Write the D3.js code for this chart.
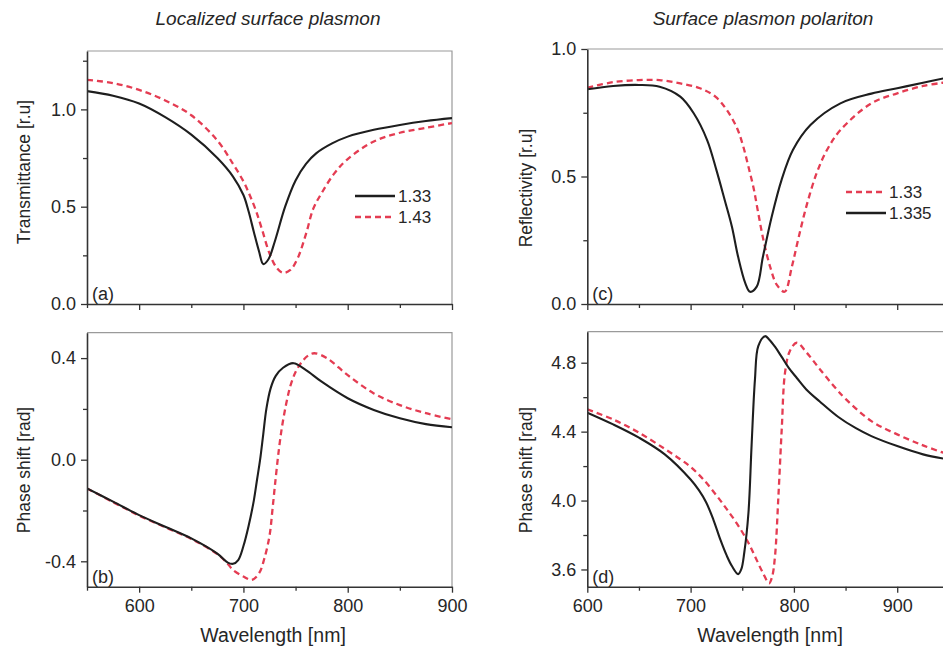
<!DOCTYPE html>
<html>
<head>
<meta charset="utf-8">
<script src="https://cdn.jsdelivr.net/npm/d3@7"></script>
<style>
  html, body { margin: 0; padding: 0; background: #fff; }
  svg { display: block; font-family: "Liberation Sans", Arial, sans-serif; }
</style>
</head>
<body>
<svg id="chart" width="943" height="651"></svg>
<script>
// (a) localized surface plasmon: transmittance vs wavelength
const wlTrans133 = [550, 575, 600, 625, 650, 675, 690, 700, 705, 710, 715, 719, 724, 730, 740, 750, 760, 770, 785, 800, 825, 850, 875, 900];
const trans133   = [1.094, 1.07, 1.03, 0.96, 0.87, 0.75, 0.655, 0.56, 0.475, 0.37, 0.27, 0.205, 0.23, 0.32, 0.50, 0.635, 0.72, 0.775, 0.825, 0.86, 0.895, 0.92, 0.94, 0.955];
const wlTrans143 = [550, 575, 600, 625, 650, 675, 690, 700, 706, 712, 718, 725, 732, 738, 745, 752, 760, 767, 775, 787, 800, 825, 850, 875, 900];
const trans143   = [1.152, 1.135, 1.10, 1.046, 0.97, 0.84, 0.72, 0.63, 0.56, 0.48, 0.38, 0.26, 0.185, 0.16, 0.175, 0.235, 0.36, 0.49, 0.57, 0.67, 0.745, 0.835, 0.88, 0.905, 0.93];

// (b) localized surface plasmon: phase shift vs wavelength
const wlPhaseL133 = [550, 575, 600, 625, 650, 675, 685, 690, 695, 700, 705, 710, 713, 716, 719, 722, 726, 731, 738, 748, 760, 775, 800, 825, 850, 875, 900];
const phaseL133   = [-0.113, -0.165, -0.218, -0.264, -0.31, -0.37, -0.405, -0.41, -0.395, -0.34, -0.26, -0.16, -0.08, 0.0, 0.1, 0.2, 0.28, 0.33, 0.362, 0.38, 0.353, 0.307, 0.242, 0.196, 0.163, 0.14, 0.128];
const wlPhaseL143 = [550, 575, 600, 625, 650, 675, 685, 690, 700, 708, 715, 720, 725, 728, 731, 734, 737, 741, 745, 750, 756, 762, 768, 780, 800, 825, 850, 875, 900];
const phaseL143   = [-0.113, -0.167, -0.22, -0.266, -0.312, -0.372, -0.41, -0.434, -0.46, -0.473, -0.447, -0.39, -0.30, -0.19, -0.07, 0.04, 0.13, 0.22, 0.29, 0.345, 0.385, 0.41, 0.419, 0.40, 0.333, 0.261, 0.215, 0.183, 0.159];

// (c) surface plasmon polariton: reflectivity vs wavelength
const wlRefl133 = [600, 625, 650, 670, 690, 709, 724, 735, 745, 751, 756, 761, 765.5, 770.5, 777, 783.5, 791, 798, 804, 812, 822, 832, 845, 875, 900, 925, 945];
const refl133   = [0.848, 0.87, 0.878, 0.878, 0.865, 0.846, 0.813, 0.761, 0.689, 0.617, 0.538, 0.454, 0.356, 0.251, 0.146, 0.075, 0.048, 0.146, 0.251, 0.382, 0.513, 0.604, 0.682, 0.787, 0.826, 0.855, 0.868];
const wlRefl1335 = [600, 625, 650, 670, 690, 703, 716, 725, 733, 740, 746, 753, 757.5, 764, 770, 778.5, 788, 799, 816, 845, 875, 900, 925, 945];
const refl1335   = [0.842, 0.855, 0.859, 0.852, 0.813, 0.748, 0.643, 0.525, 0.408, 0.303, 0.185, 0.081, 0.048, 0.068, 0.185, 0.342, 0.486, 0.604, 0.702, 0.787, 0.825, 0.846, 0.868, 0.885];

// (d) surface plasmon polariton: phase shift vs wavelength
const wlPhaseS133 = [600, 625, 650, 675, 690, 700, 712, 725, 735, 745, 755, 762, 770, 776, 779, 781.7, 785, 788.2, 791.4, 796, 802.7, 812.4, 825.3, 841.4, 850, 875, 900, 925, 945];
const phaseS133   = [4.529, 4.471, 4.394, 4.30, 4.24, 4.195, 4.125, 4.03, 3.95, 3.865, 3.765, 3.68, 3.58, 3.52, 3.56, 3.677, 4.026, 4.413, 4.742, 4.867, 4.916, 4.858, 4.761, 4.645, 4.59, 4.461, 4.384, 4.32, 4.277];
const wlPhaseS1335 = [600, 625, 650, 675, 700, 708, 715, 722, 729, 735, 740, 746, 749, 752, 756, 759, 762.3, 765.5, 772, 776, 782, 788, 795, 803, 812, 825, 843, 860, 875, 900, 925, 945];
const phaseS1335   = [4.51, 4.442, 4.365, 4.268, 4.122, 4.06, 3.99, 3.89, 3.77, 3.68, 3.62, 3.573, 3.6, 3.7, 3.929, 4.316, 4.703, 4.896, 4.954, 4.935, 4.89, 4.835, 4.77, 4.71, 4.645, 4.575, 4.485, 4.42, 4.374, 4.316, 4.268, 4.243];

// Tick values
const xTicksLeft = [600, 700, 800, 900];
const xMinorLeft = [550, 650, 750, 850];
const xTicksRight = [600, 700, 800, 900];
const xMinorRight = [650, 750, 850];
const yTicksA = [0.0, 0.5, 1.0];   const yMinorA = [0.25, 0.75, 1.25];
const yTicksB = [-0.4, 0.0, 0.4];  const yMinorB = [-0.2, 0.2];
const yTicksC = [0.0, 0.5, 1.0];   const yMinorC = [0.25, 0.75];
const yTicksD = [3.6, 4.0, 4.4, 4.8]; const yMinorD = [3.8, 4.2, 4.6];

const BLACK = "#1e1e1e";
const RED = "#e43c52";
const TEXT = "#262626";

const svg = d3.select("#chart");
const zip = (xs, ys) => xs.map((x, i) => [x, ys[i]]);
const fmt1 = v => d3.format(".1f")(v).replace("\u2212", "-");

function panel(cfg) {
  const x = d3.scaleLinear().domain(cfg.xDomain).range(cfg.xRange);
  const y = d3.scaleLinear().domain(cfg.yDomain).range(cfg.yRange);
  const [x0, x1] = cfg.xRange, [y0, y1] = cfg.yRange;
  const g = svg.append("g");

  const clipId = "clip-" + cfg.id;
  svg.append("clipPath").attr("id", clipId)
    .append("rect").attr("x", x0).attr("y", y1).attr("width", x1 - x0).attr("height", y0 - y1);

  // light frame on top and right
  g.append("path")
    .attr("d", `M${x0},${y1}H${x1}V${y0}`)
    .attr("fill", "none").attr("stroke", "#9a9a9a").attr("stroke-width", 1.2);

  const line = d3.line().x(d => x(d[0])).y(d => y(d[1])).curve(d3.curveCatmullRom.alpha(0.5));
  const lines = g.append("g").attr("clip-path", `url(#${clipId})`);
  cfg.series.forEach(s => {
    lines.append("path")
      .attr("d", line(zip(s.x, s.y)))
      .attr("fill", "none")
      .attr("stroke", s.color)
      .attr("stroke-width", s.dash ? 2.3 : 2.1)
      .attr("stroke-dasharray", s.dash ? "6,4" : null)
      .attr("stroke-linejoin", "round");
  });

  // minor ticks
  g.append("g").attr("transform", `translate(0,${y0})`)
    .call(d3.axisBottom(x).tickValues(cfg.xMinor).tickSize(4).tickSizeOuter(0).tickFormat(""))
    .call(a => a.select(".domain").remove());
  g.append("g").attr("transform", `translate(${x0},0)`)
    .call(d3.axisLeft(y).tickValues(cfg.yMinor).tickSize(4).tickSizeOuter(0).tickFormat(""))
    .call(a => a.select(".domain").remove());

  // major axes
  const xa = g.append("g").attr("transform", `translate(0,${y0})`)
    .call(d3.axisBottom(x).tickValues(cfg.xTicks).tickSize(6).tickSizeOuter(0).tickPadding(7)
      .tickFormat(cfg.xLabels ? d3.format("d") : ""));
  const ya = g.append("g").attr("transform", `translate(${x0},0)`)
    .call(d3.axisLeft(y).tickValues(cfg.yTicks).tickSize(6).tickSizeOuter(0).tickPadding(5)
      .tickFormat(fmt1));
  [xa, ya].forEach(a => {
    a.select(".domain").attr("stroke", "#333").attr("stroke-width", 1.6);
    a.selectAll(".tick text").attr("font-size", 18).attr("fill", TEXT)
      .attr("font-family", "Liberation Sans, Arial, sans-serif");
  });
  g.selectAll(".tick line").attr("stroke", "#333").attr("stroke-width", 1.3);

  // panel letter
  g.append("text").attr("x", x0 + 5).attr("y", y0 - 4)
    .attr("font-size", 18).attr("fill", TEXT).text(cfg.letter);

  // y axis title
  g.append("text")
    .attr("transform", `translate(${cfg.yTitleX},${cfg.yTitleY}) rotate(-90)`)
    .attr("text-anchor", "middle").attr("dominant-baseline", "central")
    .attr("font-size", 17.5).attr("fill", TEXT).text(cfg.yTitle);

  if (cfg.xTitle) {
    g.append("text").attr("x", cfg.xTitleX).attr("y", 635)
      .attr("text-anchor", "middle").attr("dominant-baseline", "central")
      .attr("font-size", 19.5).attr("fill", TEXT).text(cfg.xTitle);
  }
  return { x, y, g };
}

panel({
  id: "a", letter: "(a)", xDomain: [550, 900], xRange: [87, 452], yDomain: [0, 1.3], yRange: [304, 51],
  xTicks: xTicksLeft, xMinor: xMinorLeft, yTicks: yTicksA, yMinor: yMinorA, xLabels: false,
  yTitle: "Transmittance [r.u]", yTitleX: 24, yTitleY: 172,
  series: [
    { x: wlTrans143, y: trans143, color: RED, dash: true },
    { x: wlTrans133, y: trans133, color: BLACK, dash: false }
  ]
});
panel({
  id: "b", letter: "(b)", xDomain: [550, 900], xRange: [87, 452], yDomain: [-0.5, 0.5], yRange: [586.7, 332.7],
  xTicks: xTicksLeft, xMinor: xMinorLeft, yTicks: yTicksB, yMinor: yMinorB, xLabels: true,
  yTitle: "Phase shift [rad]", yTitleX: 24, yTitleY: 470, xTitle: "Wavelength [nm]", xTitleX: 273,
  series: [
    { x: wlPhaseL143, y: phaseL143, color: RED, dash: true },
    { x: wlPhaseL133, y: phaseL133, color: BLACK, dash: false }
  ]
});
panel({
  id: "c", letter: "(c)", xDomain: [600, 945], xRange: [587.3, 943.7], yDomain: [0, 1.0], yRange: [304, 49],
  xTicks: xTicksRight, xMinor: xMinorRight, yTicks: yTicksC, yMinor: yMinorC, xLabels: false,
  yTitle: "Reflectivity [r.u]", yTitleX: 526, yTitleY: 188,
  series: [
    { x: wlRefl133, y: refl133, color: RED, dash: true },
    { x: wlRefl1335, y: refl1335, color: BLACK, dash: false }
  ]
});
panel({
  id: "d", letter: "(d)", xDomain: [600, 945], xRange: [587.3, 943.7], yDomain: [3.5, 4.98], yRange: [586.7, 331.7],
  xTicks: xTicksRight, xMinor: xMinorRight, yTicks: yTicksD, yMinor: yMinorD, xLabels: true,
  yTitle: "Phase shift [rad]", yTitleX: 526, yTitleY: 470, xTitle: "Wavelength [nm]", xTitleX: 770,
  series: [
    { x: wlPhaseS133, y: phaseS133, color: RED, dash: true },
    { x: wlPhaseS1335, y: phaseS1335, color: BLACK, dash: false }
  ]
});

// column titles
svg.append("text").attr("x", 268).attr("y", 18).attr("text-anchor", "middle").attr("dominant-baseline", "central")
  .attr("font-size", 19).attr("font-style", "italic").attr("fill", TEXT).text("Localized surface plasmon");
svg.append("text").attr("x", 763).attr("y", 18).attr("text-anchor", "middle").attr("dominant-baseline", "central")
  .attr("font-size", 19).attr("font-style", "italic").attr("fill", TEXT).text("Surface plasmon polariton");

// legends
function legend(x0, yTop, items) {
  const lg = svg.append("g");
  items.forEach((it, i) => {
    const yy = yTop + i * 21;
    lg.append("line").attr("x1", x0).attr("x2", x0 + 40).attr("y1", yy).attr("y2", yy)
      .attr("stroke", it.color).attr("stroke-width", it.dash ? 2.3 : 2.4)
      .attr("stroke-dasharray", it.dash ? "6,4" : null);
    lg.append("text").attr("x", x0 + 43).attr("y", yy).attr("dominant-baseline", "central")
      .attr("font-size", 17).attr("fill", TEXT).text(it.label);
  });
}
legend(355, 196, [
  { label: "1.33", color: BLACK, dash: false },
  { label: "1.43", color: RED, dash: true }
]);
legend(846, 192, [
  { label: "1.33", color: RED, dash: true },
  { label: "1.335", color: BLACK, dash: false }
]);
</script>
</body>
</html>
